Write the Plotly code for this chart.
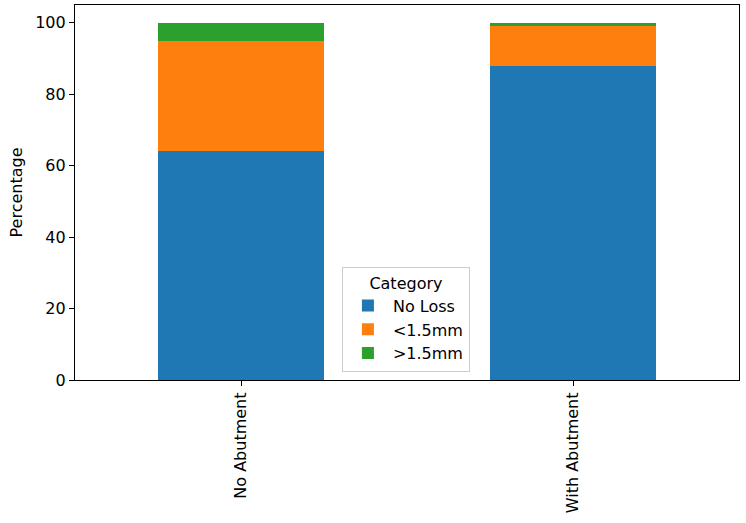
import plotly.graph_objects as go

groups = ["No Abutment", "With Abutment"]
series_names = ["No Loss", "<1.5mm", ">1.5mm"]
no_loss = [64, 88]
lt_15 = [31, 11]
gt_15 = [5, 1]
colors = ["#1f77b4", "#ff7f0e", "#2ca02c"]
y_ticks = [0, 20, 40, 60, 80, 100]

fig = go.Figure()
for name, vals, col in zip(series_names, [no_loss, lt_15, gt_15], colors):
    fig.add_trace(go.Bar(x=groups, y=vals, name=name, marker_color=col,
                         marker_line_width=0, width=0.5))

font = dict(family="DejaVu Sans", size=16, color="#000")
fig.update_layout(
    barmode="stack",
    width=746, height=523,
    margin=dict(l=75, r=7, t=5, b=143),
    plot_bgcolor="white", paper_bgcolor="white",
    font=font,
    showlegend=True,
    legend=dict(
        title=dict(text="Category", side="top center", font=font),
        traceorder="normal",
        x=0.402, y=0.302, xanchor="left", yanchor="top",
        bordercolor="#cccccc", borderwidth=1, bgcolor="white",
        font=font, itemwidth=40,
    ),
    xaxis=dict(
        range=[-0.5, 1.5], tickangle=-90, showline=True, linecolor="#000",
        linewidth=1.2, mirror=True, ticks="outside", ticklen=5, tickcolor="#000",
        showgrid=False, tickfont=font,
    ),
    yaxis=dict(
        range=[0, 105], tickvals=y_ticks, showline=True, linecolor="#000",
        linewidth=1.2, mirror=True, ticks="outside", ticklen=5, tickcolor="#000",
        showgrid=False, zeroline=False, tickfont=font,
        title=dict(text="Percentage", font=font, standoff=8),
    ),
)
fig.write_html("out.html")
